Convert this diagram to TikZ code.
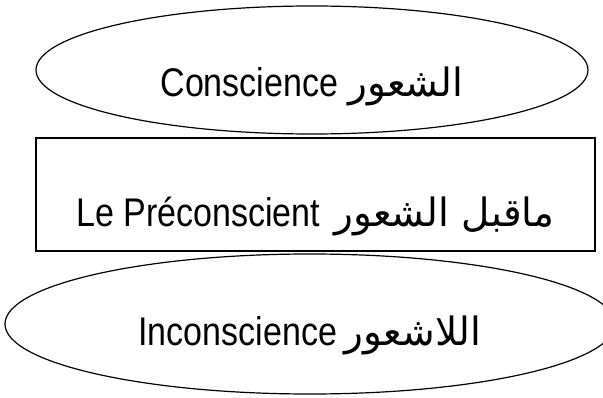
\documentclass[tikz,border=0pt]{standalone}
\usepackage{fontspec}
\setmainfont{Liberation Sans}[FakeStretch=0.85]
\newfontfamily\arabicfont[Script=Arabic]{DejaVu Sans}
\TeXXeTstate=1
\usetikzlibrary{shapes.geometric}
\newcommand{\artext}[1]{{\arabicfont\fontsize{39}{44}\selectfont\beginR #1\endR}}

\begin{document}
\begin{tikzpicture}[x=1pt,y=-1pt,every node/.style={font=\fontsize{40}{44}\selectfont,align=center},layer/.style={draw,line width=1.2pt,ellipse,inner sep=0pt,text depth=0pt},zone/.style={draw,line width=1.2pt,inner sep=0pt,text depth=0pt}]
\useasboundingbox (0,0) rectangle (603,398);
\node[layer,minimum width=552pt,minimum height=128pt,text height=54pt] (conscient) at (312,70) {Conscience\hspace{10pt}\artext{الشعور}};
\node[zone,minimum width=559pt,minimum height=113pt,text height=65pt] (preconscient) at (315.5,194.5) {Le Préconscient\hspace{14pt}\artext{ماقبل الشعور}};
\node[layer,minimum width=610pt,minimum height=140pt,text height=42pt] (inconscient) at (310,324) {Inconscience\hspace{8pt}\artext{اللاشعور}};
\end{tikzpicture}
\end{document}
